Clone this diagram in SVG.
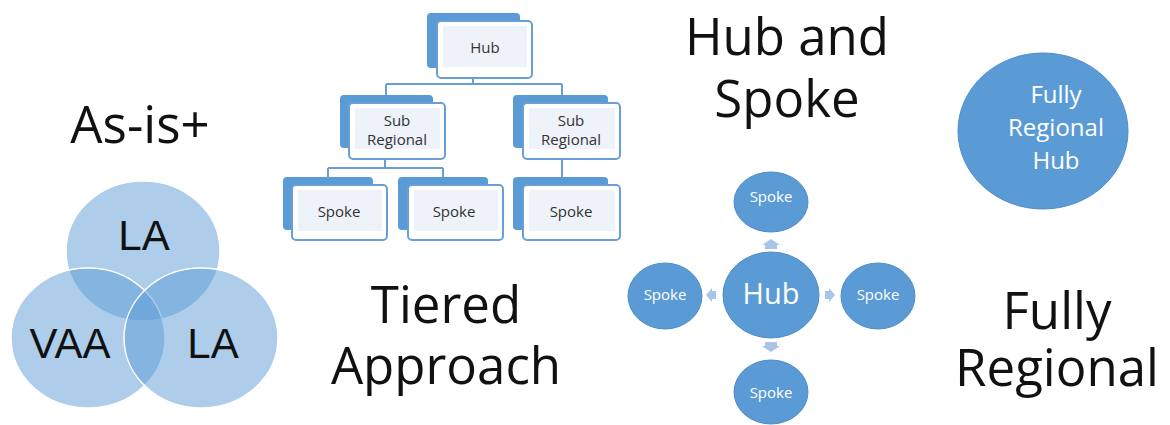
<svg xmlns="http://www.w3.org/2000/svg" width="1170" height="425" viewBox="0 0 1170 425">
  <style>
    .title { font-family: "Open Sans", "Liberation Sans", sans-serif; font-size: 51px; fill: #111111; text-anchor: middle; }
    .venn { fill: #5b9bd5; fill-opacity: 0.5; stroke: #ffffff; stroke-width: 1.5; }
    .venn-label { font-family: "Liberation Sans", Arial, sans-serif; font-size: 42px; fill: #111111; text-anchor: middle; }
    .tab { fill: #5b9bd5; }
    .card { fill: #ffffff; stroke: #6a9fd6; stroke-width: 2; }
    .card-inner { fill: #eef2f9; }
    .card-label { font-family: "Open Sans", "Liberation Sans", sans-serif; font-size: 15px; fill: #333333; text-anchor: middle; }
    .tree-link { fill: none; stroke: #6a9fd6; stroke-width: 2; }
    .disc { fill: #5b9bd5; stroke: #4f8ccb; stroke-width: 1; }
    .disc-label { font-family: "Open Sans", "Liberation Sans", sans-serif; fill: #ffffff; text-anchor: middle; }
    .flow-arrow { fill: #a9c4e6; }
  </style>

  <!-- Section titles -->
  <g id="titles">
    <text class="title" x="140" y="143">As-is+</text>
    <text class="title" x="446" y="323">Tiered</text>
    <text class="title" x="446" y="384">Approach</text>
    <text class="title" x="787" y="55">Hub and</text>
    <text class="title" x="787" y="117">Spoke</text>
    <text class="title" x="1057" y="329">Fully</text>
    <text class="title" x="1057" y="386">Regional</text>
  </g>

  <!-- As-is+: three overlapping authorities -->
  <g id="venn">
    <g id="venn-la-top">
      <ellipse class="venn" cx="143" cy="251" rx="77" ry="70"/>
    </g>
    <g id="venn-vaa">
      <ellipse class="venn" cx="88" cy="338" rx="77" ry="70"/>
    </g>
    <g id="venn-la-right">
      <ellipse class="venn" cx="201" cy="338" rx="77" ry="70"/>
    </g>
    <text class="venn-label" x="144" y="250">LA</text>
    <text class="venn-label" x="70" y="358">VAA</text>
    <text class="venn-label" x="213" y="358">LA</text>
  </g>

  <!-- Tiered approach: connectors -->
  <g id="tree-connectors">
    <path class="tree-link" d="M473,78 V84 M386,84 H562 M386,84 V95 M562,84 V95"/>
    <path class="tree-link" d="M385,159 V168 M328,168 H443 M328,168 V177 M443,168 V177"/>
    <path class="tree-link" d="M562,159 V177"/>
  </g>

  <!-- Tiered approach: cards -->
  <g id="tier-hub">
    <rect class="tab" x="427" y="13" width="93" height="55" rx="4"/>
    <rect class="card" x="437" y="21" width="95" height="57" rx="4"/>
    <rect class="card-inner" x="443" y="26" width="84" height="41"/>
    <text class="card-label" x="485" y="53">Hub</text>
  </g>
  <g id="tier-sub-left">
    <rect class="tab" x="340" y="95" width="93" height="53" rx="4"/>
    <rect class="card" x="349" y="103" width="96" height="56" rx="4"/>
    <rect class="card-inner" x="355" y="108" width="85" height="41"/>
    <text class="card-label" x="397" y="126">Sub</text>
    <text class="card-label" x="397" y="145">Regional</text>
  </g>
  <g id="tier-sub-right">
    <rect class="tab" x="513" y="95" width="95" height="53" rx="4"/>
    <rect class="card" x="523" y="103" width="97" height="56" rx="4"/>
    <rect class="card-inner" x="529" y="108" width="86" height="41"/>
    <text class="card-label" x="571" y="126">Sub</text>
    <text class="card-label" x="571" y="145">Regional</text>
  </g>
  <g id="tier-spoke-1">
    <rect class="tab" x="283" y="177" width="90" height="53" rx="4"/>
    <rect class="card" x="292" y="185" width="95" height="55" rx="4"/>
    <rect class="card-inner" x="298" y="190" width="84" height="41"/>
    <text class="card-label" x="339" y="217">Spoke</text>
  </g>
  <g id="tier-spoke-2">
    <rect class="tab" x="398" y="177" width="90" height="53" rx="4"/>
    <rect class="card" x="408" y="185" width="95" height="55" rx="4"/>
    <rect class="card-inner" x="414" y="190" width="84" height="41"/>
    <text class="card-label" x="454" y="217">Spoke</text>
  </g>
  <g id="tier-spoke-3">
    <rect class="tab" x="513" y="177" width="95" height="53" rx="4"/>
    <rect class="card" x="523" y="185" width="97" height="55" rx="4"/>
    <rect class="card-inner" x="529" y="190" width="86" height="41"/>
    <text class="card-label" x="571" y="217">Spoke</text>
  </g>

  <!-- Hub and spoke: direction markers -->
  <g id="hub-connectors">
    <polygon class="flow-arrow" points="765,249 765,245 762,245 771,239 780,245 777,245 777,249"/>
    <polygon class="flow-arrow" points="765,342 765,346 762,346 771,352 780,346 777,346 777,342"/>
    <polygon class="flow-arrow" points="716,291 712,291 712,288 706,295 712,302 712,299 716,299"/>
    <polygon class="flow-arrow" points="825,291 829,291 829,288 835,295 829,302 829,299 825,299"/>
  </g>

  <!-- Hub and spoke: nodes -->
  <g id="hs-hub">
    <ellipse class="disc" cx="771" cy="295" rx="48" ry="43"/>
    <text class="disc-label" x="771" y="304" font-size="29">Hub</text>
  </g>
  <g id="hs-spoke-top">
    <ellipse class="disc" cx="771" cy="202" rx="37" ry="30"/>
    <text class="disc-label" x="771" y="202" font-size="15">Spoke</text>
  </g>
  <g id="hs-spoke-left">
    <ellipse class="disc" cx="665" cy="296" rx="37" ry="33"/>
    <text class="disc-label" x="665" y="300" font-size="15">Spoke</text>
  </g>
  <g id="hs-spoke-right">
    <ellipse class="disc" cx="878" cy="296" rx="37" ry="33"/>
    <text class="disc-label" x="878" y="300" font-size="15">Spoke</text>
  </g>
  <g id="hs-spoke-bottom">
    <ellipse class="disc" cx="771" cy="392" rx="37" ry="32"/>
    <text class="disc-label" x="771" y="398" font-size="15">Spoke</text>
  </g>

  <!-- Fully regional hub -->
  <g id="regional-hub">
    <ellipse class="disc" cx="1043" cy="131" rx="85" ry="78"/>
    <text class="disc-label" x="1056" y="103" font-size="24">Fully</text>
    <text class="disc-label" x="1056" y="136" font-size="24">Regional</text>
    <text class="disc-label" x="1056" y="169" font-size="24">Hub</text>
  </g>
</svg>
